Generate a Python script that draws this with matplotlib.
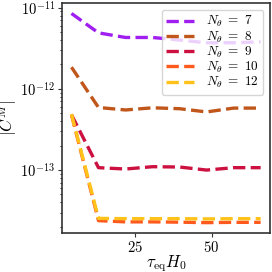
"Convergence of |C^M| against tau_eq H0 for several N_theta"

import matplotlib as mpl
import matplotlib.pyplot as plt

mpl.rcParams["font.family"] = "serif"
mpl.rcParams["font.serif"] = ["cmr10", "DejaVu Serif"]
mpl.rcParams["mathtext.fontset"] = "cm"
mpl.rcParams["axes.formatter.use_mathtext"] = True

#####
# Data
#####

tau = [4.4, 13.2, 22.0, 30.8, 39.6, 48.4, 57.2, 66.0]

cm_7 = [8.5e-12, 4.9e-12, 4.3e-12, 4.3e-12, 4.0e-12, 3.7e-12, 3.7e-12, 3.8e-12]
cm_8 = [1.85e-12, 5.9e-13, 5.5e-13, 5.85e-13, 5.7e-13, 5.2e-13, 5.8e-13, 5.8e-13]
cm_9 = [4.8e-13, 1.07e-13, 1.03e-13, 1.1e-13, 1.09e-13, 1.0e-13, 1.07e-13, 1.07e-13]
cm_10 = [4.8e-13, 2.38e-14, 2.3e-14, 2.3e-14, 2.28e-14, 2.25e-14, 2.27e-14, 2.27e-14]
cm_12 = [4.9e-13, 2.54e-14, 2.52e-14, 2.52e-14, 2.52e-14, 2.5e-14, 2.52e-14, 2.52e-14]

labels = [r"$N_\theta\ =\ 7$", r"$N_\theta\ =\ 8$", r"$N_\theta\ =\ 9$",
          r"$N_\theta\ =\ 10$", r"$N_\theta\ =\ 12$"]
colors = ["#a01ef0", "#c0561a", "#cc1040", "#ff5a1e", "#ffc21a"]

#####
# Plot
#####

fig = plt.figure(figsize=(2.72, 2.72), dpi=100)
ax = fig.add_axes([0.228, 0.143, 0.765, 0.846])

for values, label, color in zip([cm_7, cm_8, cm_9, cm_10, cm_12], labels, colors):
    ax.plot(tau, values, "--", color=color, lw=2.4, label=label)

ax.set_yscale("log")
ax.set_xticks([25, 50])
ax.tick_params(labelsize=10.5, length=3, color="#333333", pad=2)
ax.tick_params(which="minor", length=1.5)
for spine in ax.spines.values():
    spine.set_color("#333333")
    spine.set_linewidth(1.2)

ax.set_xlabel(r"$\tau_{\rm eq} H_0$", fontsize=12, labelpad=-1)
ax.set_ylabel(r"$|C^M|$", fontsize=12, labelpad=1)
ax.legend(loc="upper right", fontsize=9.5, handlelength=2.1, labelspacing=0.0,
          borderpad=0.35, handletextpad=0.9, framealpha=0.8)

plt.savefig("out.png", dpi=100)
